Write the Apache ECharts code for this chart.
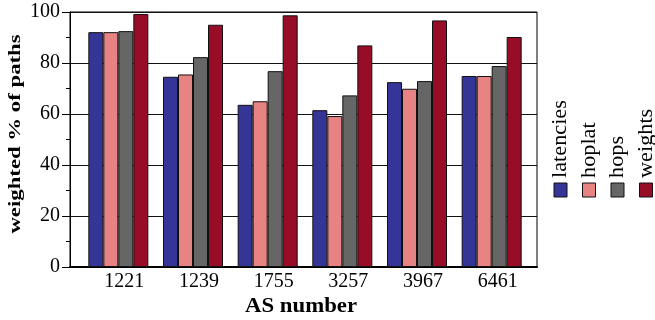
<!DOCTYPE html>
<html>
<head>
<meta charset="utf-8">
<script src="https://cdn.jsdelivr.net/npm/echarts@6/dist/echarts.min.js"></script>
<style>html,body{margin:0;padding:0;background:#fff;}#c{width:655px;height:320px;}</style>
</head>
<body>
<div id="c"></div>
<script>
var categories = ['1221', '1239', '1755', '3257', '3967', '6461'];
var latencies = [92.1, 74.6, 63.6, 61.5, 72.5, 74.9];
var hoplat = [92.1, 75.5, 65.0, 59.2, 69.9, 74.9];
var hops = [92.5, 82.3, 76.8, 67.3, 72.9, 78.8];
var weights = [99.2, 95.0, 98.7, 86.9, 96.7, 90.2];
var seriesNames = ['latencies', 'hoplat', 'hops', 'weights'];
var yTicks = [0, 20, 40, 60, 80, 100];

var colors = ['#353597', '#E88383', '#666666', '#970C27'];
var values = [latencies, hoplat, hops, weights];
var FONT = 'Liberation Serif';

var chart = echarts.init(document.getElementById('c'));

var series = seriesNames.map(function (n, i) {
  return {
    name: n, type: 'bar', xAxisIndex: 1, yAxisIndex: 1,
    data: values[i], barWidth: 15, barGap: '0%',
    itemStyle: { color: colors[i], borderColor: '#111', borderWidth: 1 }
  };
});

var graphics = [];
seriesNames.forEach(function (n, i) {
  var cx = 560.5 + 28.5 * i;
  graphics.push({
    type: 'rect', shape: { x: cx - 6.5, y: 183, width: 13, height: 14 },
    style: { fill: colors[i], stroke: '#111', lineWidth: 1 }
  });
  graphics.push({
    type: 'text', x: cx, y: 178, rotation: Math.PI / 2, scaleX: 1.06,
    style: { text: n, fontFamily: FONT, fontSize: 21, fill: '#000', textAlign: 'left', textVerticalAlign: 'middle', verticalAlign: 'middle' }
  });
});
graphics.push({
  type: 'text', x: 16, y: 134, rotation: Math.PI / 2, scaleX: 1.38,
  style: { text: 'weighted % of paths', fontFamily: FONT, fontWeight: 'bold', fontSize: 16.5, fill: '#000', textAlign: 'center', textVerticalAlign: 'middle', verticalAlign: 'middle' }
});
graphics.push({
  type: 'text', x: 301, y: 307, scaleX: 1.14,
  style: { text: 'AS number', fontFamily: FONT, fontWeight: 'bold', fontSize: 20, fill: '#000', textAlign: 'center', textVerticalAlign: 'middle', verticalAlign: 'middle' }
});

chart.setOption({
  animation: false,
  backgroundColor: '#fff',
  textStyle: { fontFamily: FONT },
  grid: [
    { left: 70, right: 118, top: 12, bottom: 53, show: true, borderColor: '#000', borderWidth: 1, backgroundColor: 'transparent' },
    { left: 81, width: 448, top: 12, bottom: 53 }
  ],
  xAxis: [
    { type: 'value', gridIndex: 0, min: 0, max: 1,
      axisLine: { show: true, lineStyle: { color: '#000', width: 2 } },
      axisTick: { show: false }, axisLabel: { show: false }, splitLine: { show: false } },
    { type: 'category', gridIndex: 1, data: categories,
      axisLine: { show: false }, axisTick: { show: false },
      axisLabel: { color: '#000', fontFamily: FONT, fontSize: 20, margin: 5, padding: [0, 0, 0, 12] } }
  ],
  yAxis: [
    { type: 'value', gridIndex: 0, min: yTicks[0], max: yTicks[yTicks.length - 1], interval: 20,
      axisLine: { show: true, lineStyle: { color: '#000', width: 1 } },
      axisTick: { show: true, inside: false, length: 8, lineStyle: { color: '#000' } },
      minorTick: { show: true, splitNumber: 2, length: 4, lineStyle: { color: '#000' } },
      splitLine: { show: true, lineStyle: { color: '#111', width: 1 } },
      axisLabel: { color: '#000', fontFamily: FONT, fontSize: 20, margin: 10 } },
    { type: 'value', gridIndex: 1, min: 0, max: 100, show: false }
  ],
  series: series,
  graphic: graphics
});
</script>
</body>
</html>
